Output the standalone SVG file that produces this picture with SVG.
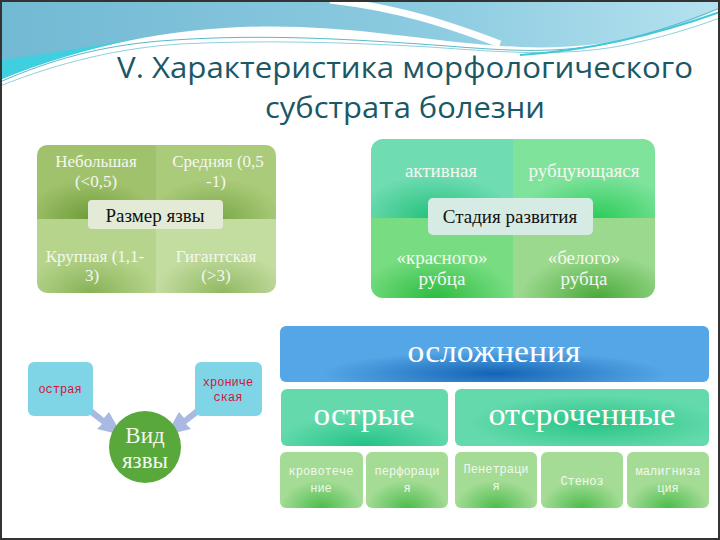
<svg xmlns="http://www.w3.org/2000/svg" width="720" height="540" viewBox="0 0 720 540">
<defs>
<linearGradient id="hdr" x1="0" y1="0" x2="1" y2="0">
<stop offset="0" stop-color="#72b9d3"/><stop offset="0.6" stop-color="#8ccbe0"/><stop offset="1" stop-color="#b5e2ef"/>
</linearGradient>
<radialGradient id="gq1" cx="0.45" cy="1" r="0.55"><stop offset="0" stop-color="#6e9c38"/><stop offset="1" stop-color="#a0c26c"/></radialGradient>
<radialGradient id="gq2" cx="0.5" cy="1" r="0.55"><stop offset="0" stop-color="#7aa848"/><stop offset="1" stop-color="#aacb7a"/></radialGradient>
<radialGradient id="gq3" cx="0.45" cy="1" r="0.55"><stop offset="0" stop-color="#86b256"/><stop offset="1" stop-color="#b6d48c"/></radialGradient>
<radialGradient id="gq4" cx="0.55" cy="1" r="0.55"><stop offset="0" stop-color="#90b862"/><stop offset="1" stop-color="#c3dca0"/></radialGradient>
<radialGradient id="gr1" cx="0.45" cy="1" r="0.55"><stop offset="0" stop-color="#22c07a"/><stop offset="1" stop-color="#6fdcb2"/></radialGradient>
<radialGradient id="gr2" cx="0.6" cy="1" r="0.55"><stop offset="0" stop-color="#2ccc5a"/><stop offset="1" stop-color="#7fe39c"/></radialGradient>
<radialGradient id="gr3" cx="0.45" cy="1" r="0.55"><stop offset="0" stop-color="#2dbc40"/><stop offset="1" stop-color="#78dd82"/></radialGradient>
<radialGradient id="gr4" cx="0.6" cy="1" r="0.55"><stop offset="0" stop-color="#4aaa3a"/><stop offset="1" stop-color="#9bd98e"/></radialGradient>
<radialGradient id="gBlue" cx="0.5" cy="0.85" r="0.4"><stop offset="0" stop-color="#1464b5"/><stop offset="1" stop-color="#55a6e6"/></radialGradient>
<radialGradient id="gTeal" cx="0.5" cy="1" r="0.55"><stop offset="0" stop-color="#22c285"/><stop offset="1" stop-color="#64daac"/></radialGradient>
<radialGradient id="gTeal2" cx="0.55" cy="0.6" r="0.5"><stop offset="0" stop-color="#28c486"/><stop offset="1" stop-color="#64daac"/></radialGradient>
<radialGradient id="gLeaf" cx="0.5" cy="1" r="0.5"><stop offset="0" stop-color="#4cbc4c"/><stop offset="1" stop-color="#a4dc96"/></radialGradient>
<clipPath id="clipL"><rect x="37" y="145" width="239" height="148" rx="10"/></clipPath>
<clipPath id="clipR"><rect x="371" y="139" width="284" height="159" rx="12"/></clipPath>
</defs>
<style>
.title{font-family:"Open Sans","Noto Sans",sans-serif;fill:#1b5866;font-size:30px;text-anchor:middle}
.q{font-family:"Liberation Serif","DejaVu Serif",serif;fill:#f4f8ee;font-size:17px;text-anchor:middle}
.q2{font-family:"Liberation Serif","DejaVu Serif",serif;fill:#f4f8ee;font-size:19px;text-anchor:middle}
.lbl{font-family:"Liberation Serif","DejaVu Serif",serif;fill:#111;font-size:19px;text-anchor:middle}
.big{font-family:"Liberation Serif","DejaVu Serif",serif;fill:#ffffff;font-size:32px;text-anchor:middle}
.mono{font-family:"Liberation Mono","DejaVu Sans Mono",monospace;font-size:12px;text-anchor:middle}
.sm{fill:#f2f8ee}
.red{fill:#d2143c}
.box{fill:#7fd5e6}
.leaf{fill:url(#gLeaf)}
.arrow{fill:#aab9e2}
</style>
<rect x="0" y="0" width="720" height="540" fill="#ffffff"/>
<!-- header decoration -->
<path d="M0,0 H720 V8 C660,38 590,50 520,47 C440,43 380,30 300,27 C200,23 100,40 0,78 Z" fill="url(#hdr)"/>
<path d="M0,60 C40,55 90,47 140,38 C90,48 40,63 0,80 Z" fill="#3fcfdf"/>
<path d="M330,0 C400,8 450,25 500,44" fill="none" stroke="#ffffff" stroke-width="7"/>
<path d="M0,82 C50,60 100,46 160,41 C250,34 330,38 420,44 C490,49 540,55 600,45 C650,35 690,20 720,8" fill="none" stroke="#5cb8c8" stroke-width="1"/>
<path d="M0,86 C60,62 120,48 180,44 C260,40 340,42 430,47 C500,52 560,57 620,46 C670,36 700,25 720,18" fill="none" stroke="#8fd0dc" stroke-width="1"/>
<path d="M520,55 C600,50 670,30 720,12" fill="none" stroke="#40c8d8" stroke-width="2"/>
<rect x="1" y="1" width="718" height="538" fill="none" stroke="#333" stroke-width="2"/>

<g id="title">
<text class="title" x="405" y="78" textLength="576" lengthAdjust="spacingAndGlyphs">V. Характеристика морфологического</text>
<text class="title" x="405" y="118" textLength="280" lengthAdjust="spacingAndGlyphs">субстрата болезни</text>
</g>

<g id="razmer">
<g clip-path="url(#clipL)">
<rect x="37" y="145" width="119" height="74" fill="url(#gq1)"/>
<rect x="156" y="145" width="120" height="74" fill="url(#gq2)"/>
<rect x="37" y="219" width="119" height="74" fill="url(#gq3)"/>
<rect x="156" y="219" width="120" height="74" fill="url(#gq4)"/>
</g>
<text class="q" x="96" y="167">Небольшая</text>
<text class="q" x="96" y="187">(&lt;0,5)</text>
<text class="q" x="218" y="167">Средняя  (0,5</text>
<text class="q" x="216" y="187">-1)</text>
<text class="q" x="95" y="262">Крупная  (1,1-</text>
<text class="q" x="92" y="281">3)</text>
<text class="q" x="216" y="262">Гигантская</text>
<text class="q" x="216" y="281">(&gt;3)</text>
<rect x="88" y="200" width="135" height="29" rx="4" fill="#e3ebd7"/>
<text class="lbl" x="155" y="222">Размер язвы</text>
</g>

<g id="stadia">
<g clip-path="url(#clipR)">
<rect x="371" y="139" width="142" height="79" fill="url(#gr1)"/>
<rect x="513" y="139" width="142" height="79" fill="url(#gr2)"/>
<rect x="371" y="218" width="142" height="80" fill="url(#gr3)"/>
<rect x="513" y="218" width="142" height="80" fill="url(#gr4)"/>
</g>
<text class="q2" x="441" y="177">активная</text>
<text class="q2" x="584" y="177">рубцующаяся</text>
<text class="q2" x="442" y="264">«красного»</text>
<text class="q2" x="442" y="285">рубца</text>
<text class="q2" x="584" y="264">«белого»</text>
<text class="q2" x="584" y="285">рубца</text>
<rect x="428" y="198" width="165" height="37" rx="5" fill="#d6ebe3"/>
<text class="lbl" x="510" y="223" font-size="20">Стадия развития</text>
</g>

<g id="connectors">
<path class="arrow" d="M82,400 L104,418 L109,412 L122,435 L97,429 L102,424 L80,407 Z"/>
<path class="arrow" d="M206,400 L184,418 L179,412 L166,435 L191,429 L186,424 L208,407 Z"/>
</g>

<g id="ostraya">
<rect class="box" x="28" y="362" width="65" height="54" rx="6"/>
<text class="mono red" x="60" y="393">острая</text>
</g>
<g id="hronicheskaya">
<rect class="box" x="195" y="362" width="67" height="54" rx="6"/>
<text class="mono red" x="228" y="386">хрониче</text>
<text class="mono red" x="228" y="401">ская</text>
</g>
<g id="vid">
<circle cx="145" cy="447" r="36" fill="#58a83c"/>
<text x="145" y="443" font-family="Liberation Serif, DejaVu Serif, serif" font-size="23" fill="#f2f8ee" text-anchor="middle">Вид</text>
<text x="145" y="468" font-family="Liberation Serif, DejaVu Serif, serif" font-size="23" fill="#f2f8ee" text-anchor="middle">язвы</text>
</g>

<g id="oslozhneniya">
<rect x="280" y="326" width="429" height="56" rx="6" fill="url(#gBlue)"/>
<text class="big" x="494" y="362" textLength="173" lengthAdjust="spacingAndGlyphs">осложнения</text>
</g>
<g id="ostrye">
<rect x="281" y="389" width="167" height="57" rx="6" fill="url(#gTeal)"/>
<text class="big" x="364" y="425" textLength="101" lengthAdjust="spacingAndGlyphs">острые</text>
</g>
<g id="otsrochennye">
<rect x="455" y="389" width="254" height="57" rx="6" fill="url(#gTeal2)"/>
<text class="big" x="582" y="425" textLength="187" lengthAdjust="spacingAndGlyphs">отсроченные</text>
</g>

<g id="krovotechenie">
<rect class="leaf" x="280" y="452" width="83" height="56" rx="6"/>
<text class="mono sm" x="321" y="475">кровотече</text>
<text class="mono sm" x="321" y="492">ние</text>
</g>
<g id="perforacia">
<rect class="leaf" x="366" y="452" width="82" height="56" rx="6"/>
<text class="mono sm" x="407" y="475">перфораци</text>
<text class="mono sm" x="407" y="492">я</text>
</g>
<g id="penetracia">
<rect class="leaf" x="455" y="452" width="82" height="56" rx="6"/>
<text class="mono sm" x="496" y="473">Пенетраци</text>
<text class="mono sm" x="496" y="490">я</text>
</g>
<g id="stenoz">
<rect class="leaf" x="541" y="452" width="82" height="56" rx="6"/>
<text class="mono sm" x="582" y="485">Стеноз</text>
</g>
<g id="malignizacia">
<rect class="leaf" x="627" y="452" width="82" height="56" rx="6"/>
<text class="mono sm" x="668" y="475">малигниза</text>
<text class="mono sm" x="668" y="492">ция</text>
</g>
</svg>
